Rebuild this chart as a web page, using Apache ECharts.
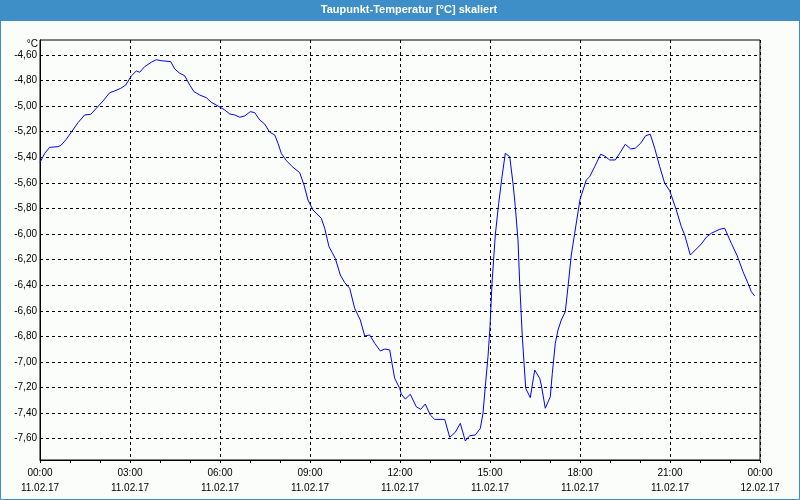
<!DOCTYPE html>
<html>
<head>
<meta charset="utf-8">
<script src="https://cdn.jsdelivr.net/npm/echarts@6/dist/echarts.min.js"></script>
<style>html,body{margin:0;padding:0;background:#fbfdfb;}#c{width:800px;height:500px;}</style>
</head>
<body>
<div id="c"></div>
<script>
const title = 'Taupunkt-Temperatur [°C] skaliert';
const unitLabel = '°C';
const hours = [0, 0.157, 0.323, 0.6, 0.71, 0.877, 1.043, 1.267, 1.49, 1.69, 1.877, 2.1, 2.323, 2.49, 2.69, 2.857,
  3.043, 3.21, 3.323, 3.49, 3.71, 3.877, 4.043, 4.357, 4.49, 4.657, 4.823, 4.99, 5.133, 5.323, 5.543, 5.71, 5.933,
  6.157, 6.323, 6.49, 6.657, 6.823, 7.01, 7.157, 7.323, 7.49, 7.657, 7.823, 7.933, 8.043, 8.21, 8.433, 8.657, 8.8, 8.933,
  9.1, 9.267, 9.377, 9.49, 9.633, 9.743, 9.843, 10.01, 10.157, 10.323, 10.49, 10.677, 10.823, 10.99, 11.157, 11.343,
  11.49, 11.657, 11.733, 11.823, 11.99, 12.043, 12.177, 12.343, 12.543, 12.69, 12.843, 13.01, 13.157, 13.49, 13.657,
  13.843, 14.01, 14.177, 14.323, 14.51, 14.677, 14.767, 14.843, 14.933, 15.0, 15.067, 15.177, 15.29, 15.4, 15.51,
  15.657, 15.767, 15.843, 15.933, 15.99, 16.077, 16.19, 16.343, 16.49, 16.657, 16.71, 16.843, 17.01, 17.077, 17.177,
  17.267, 17.377, 17.51, 17.6, 17.71, 17.823, 18.0, 18.21, 18.323, 18.49, 18.69, 18.823, 18.99, 19.177, 19.323,
  19.51, 19.69, 19.843, 20.023, 20.19, 20.343, 20.49, 20.657, 20.823, 20.99, 21.21, 21.377, 21.49, 21.677, 21.843,
  22.043, 22.21, 22.377, 22.657, 22.823, 23.043, 23.243, 23.433, 23.6, 23.71, 23.823];
const dewPoint = [-5.44, -5.369, -5.322, -5.317, -5.304, -5.259, -5.204, -5.129, -5.069, -5.064, -5.017, -4.96, -4.895, -4.881, -4.861, -4.835,
  -4.764, -4.725, -4.735, -4.691, -4.657, -4.637, -4.645, -4.652, -4.709, -4.743, -4.762, -4.835, -4.887, -4.913, -4.934, -4.97, -4.999,
  -5.03, -5.061, -5.069, -5.087, -5.077, -5.043, -5.051, -5.108, -5.14, -5.204, -5.225, -5.29, -5.369, -5.426, -5.478, -5.52, -5.616, -5.734,
  -5.812, -5.851, -5.877, -5.955, -6.099, -6.146, -6.19, -6.32, -6.38, -6.424, -6.581, -6.672, -6.797, -6.789, -6.854, -6.914,
  -6.899, -6.906, -7.011, -7.128, -7.206, -7.25, -7.29, -7.253, -7.35, -7.37, -7.329, -7.415, -7.449, -7.449, -7.589,
  -7.55, -7.48, -7.618, -7.577, -7.571, -7.519, -7.401, -7.193, -6.959, -6.724, -6.385, -6.007, -5.76, -5.552, -5.369,
  -5.395, -5.603, -5.786, -6.046, -6.385, -6.802, -7.206, -7.279, -7.063, -7.128, -7.18, -7.362, -7.272, -7.089, -6.854,
  -6.75, -6.672, -6.607, -6.412, -6.164, -5.994, -5.73, -5.577, -5.551, -5.473, -5.376, -5.39, -5.421, -5.421, -5.369,
  -5.298, -5.335, -5.329, -5.29, -5.231, -5.22, -5.329, -5.473, -5.603, -5.661, -5.812, -5.942, -6.007, -6.164, -6.125,
  -6.078, -6.025, -5.994, -5.963, -5.955, -6.072, -6.171, -6.294, -6.385, -6.451, -6.484];
const yTicks = [-4.6, -4.8, -5.0, -5.2, -5.4, -5.6, -5.8, -6.0, -6.2, -6.4, -6.6, -6.8, -7.0, -7.2, -7.4, -7.6];
const timeLabels = ['00:00', '03:00', '06:00', '09:00', '12:00', '15:00', '18:00', '21:00', '00:00'];
const dateLabels = ['11.02.17', '11.02.17', '11.02.17', '11.02.17', '11.02.17', '11.02.17', '11.02.17', '11.02.17', '12.02.17'];

const FONT = 'Liberation Sans';
const chart = echarts.init(document.getElementById('c'), null, {renderer: 'canvas'});
chart.setOption({
  animation: false,
  backgroundColor: '#fbfdfb',
  grid: {left: 40, right: 40, top: 40, bottom: 40, show: true, borderColor: '#000', borderWidth: 1, backgroundColor: 'transparent'},
  xAxis: {
    type: 'value', min: 0, max: 24, interval: 3,
    axisLine: {show: true, lineStyle: {color: '#000', width: 1}},
    axisTick: {show: true, length: 3, inside: false, lineStyle: {color: '#000'}},
    minorTick: {show: true, splitNumber: 3, length: 3, lineStyle: {color: '#000'}},
    splitLine: {show: true, lineStyle: {color: '#000', type: [3, 3], width: 1}},
    axisLabel: {
      margin: 6, lineHeight: 15, color: '#000', fontFamily: FONT, fontSize: 10,
      formatter: function (v) { const i = Math.round(v / 3); return timeLabels[i] + '\n' + dateLabels[i]; }
    }
  },
  yAxis: {
    type: 'value', min: -7.7665, max: -4.483,
    axisLine: {show: true, lineStyle: {color: '#000', width: 1}},
    axisTick: {show: false, customValues: yTicks},
    splitLine: {show: true, lineStyle: {color: '#000', type: [3, 3], width: 1}},
    axisLabel: {
      customValues: yTicks, margin: 3, color: '#000', fontFamily: FONT, fontSize: 10,
      formatter: function (v) { return v.toFixed(2).replace('.', ','); }
    }
  },
  series: [{
    type: 'line', data: hours.map((h, i) => [h, dewPoint[i]]),
    showSymbol: false, symbol: 'none',
    lineStyle: {color: '#0000ff', width: 1}
  }],
  graphic: [
    {type: 'rect', z: 100, shape: {x: 0, y: 0, width: 800, height: 21}, style: {fill: '#3e8ec7'}},
    {type: 'text', z: 101, x: 409, y: 10, style: {text: title, fill: '#ffffff', font: 'bold 11px "Liberation Sans"', textAlign: 'center', textVerticalAlign: 'middle'}},
    {type: 'rect', z: 100, shape: {x: 0.5, y: 0.5, width: 799, height: 499}, style: {fill: 'none', stroke: '#3e8ec7', lineWidth: 1}},
    {type: 'text', z: 101, x: 38, y: 44, style: {text: unitLabel, fill: '#000', font: '10px "Liberation Sans"', textAlign: 'right', textVerticalAlign: 'middle'}}
  ]
});
</script>
</body>
</html>
